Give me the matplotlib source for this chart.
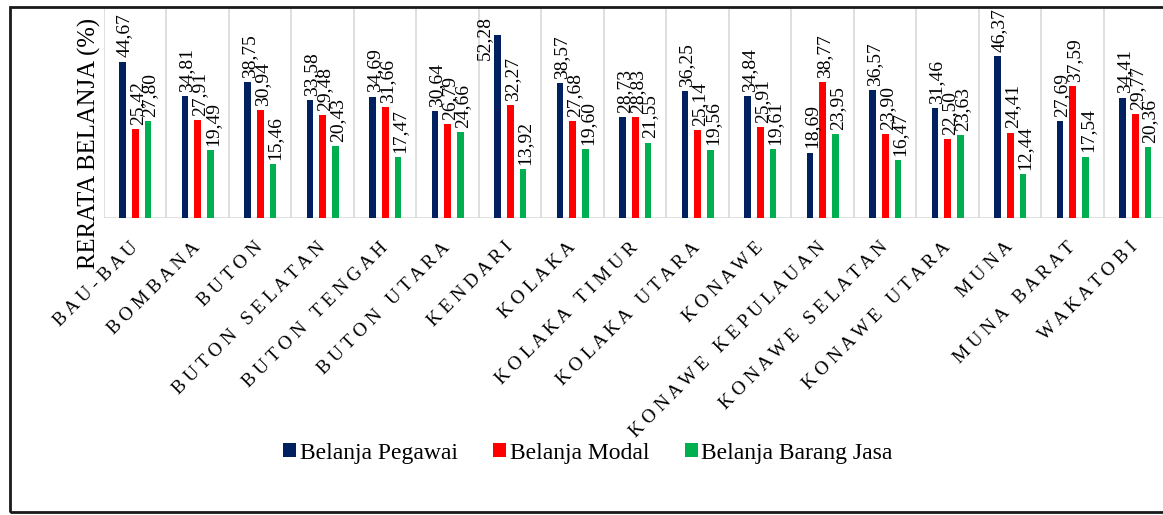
import numpy as np
import matplotlib.pyplot as plt
from matplotlib.patches import Patch, Rectangle
from matplotlib.transforms import ScaledTranslation

plt.rcParams['font.family'] = ['Liberation Serif', 'DejaVu Serif']

# data
regions = ['BAU-BAU', 'BOMBANA', 'BUTON', 'BUTON SELATAN', 'BUTON TENGAH', 'BUTON UTARA',
           'KENDARI', 'KOLAKA', 'KOLAKA TIMUR', 'KOLAKA UTARA', 'KONAWE',
           'KONAWE KEPULAUAN', 'KONAWE SELATAN', 'KONAWE UTARA', 'MUNA', 'MUNA BARAT', 'WAKATOBI']
pegawai = [44.67, 34.81, 38.75, 33.58, 34.69, 30.64, 52.28, 38.57, 28.73, 36.25, 34.84,
           18.69, 36.57, 31.46, 46.37, 27.69, 34.41]
modal = [25.42, 27.91, 30.94, 29.48, 31.66, 26.79, 32.27, 27.68, 28.83, 25.14, 25.91,
         38.77, 23.90, 22.50, 24.41, 37.59, 29.77]
barang_jasa = [27.80, 19.49, 15.46, 20.43, 17.47, 24.66, 13.92, 19.60, 21.55, 19.56, 19.61,
               23.95, 16.47, 23.63, 12.44, 17.54, 20.36]
series_names = ['Belanja Pegawai', 'Belanja Modal', 'Belanja Barang Jasa']

colors = ['#002060', '#FF0000', '#00B050']

fig = plt.figure(figsize=(11.63, 5.15), dpi=100)
ax = fig.add_axes([0.0894, 0.5767, 0.9136, 0.4078])

YMAX = 60
x = np.arange(len(regions))
bar_w = 0.107
step = 0.203
for k, (vals, c) in enumerate(zip([pegawai, modal, barang_jasa], colors)):
    xs = x + (k - 1) * step
    ax.bar(xs, vals, width=bar_w, color=c, zorder=3)
    for xi, v in zip(xs, vals):
        txt = f'{v:.2f}'.replace('.', ',')
        if v > 50:
            # no room above the bar: label sits beside it, against the top
            ax.annotate(txt, (xi, YMAX), xytext=(-9.5, -6), textcoords='offset points',
                        rotation=90, ha='center', va='top', fontsize=14, zorder=4)
        else:
            ax.annotate(txt, (xi, v), xytext=(1.5, 3), textcoords='offset points',
                        rotation=90, ha='center', va='bottom', fontsize=14, zorder=4)

# category separators + baseline
for b in np.arange(-0.5, len(regions), 1.0):
    ax.axvline(b, color='#d9d9d9', lw=1.2, zorder=1)
ax.axhline(0, color='#d9d9d9', lw=1.8, zorder=2)

ax.set_xlim(-0.5, len(regions) - 0.5)
ax.set_ylim(0, YMAX)
ax.set_yticks([])
for s in ax.spines.values():
    s.set_visible(False)


def spaced(name):
    return '   '.join(' '.join(w) for w in name.split(' '))


ax.set_xticks(x)
ax.set_xticklabels([spaced(r) for r in regions], rotation=45, ha='right', va='top',
                   rotation_mode='anchor', fontsize=13.8)
ax.tick_params(axis='x', length=0, pad=15)
shift = ScaledTranslation(-6 / 100, 0, fig.dpi_scale_trans)
for lbl in ax.get_xticklabels():
    lbl.set_transform(lbl.get_transform() + shift)

fig.text(0.0765, 0.722, 'RERATA BELANJA (%)', rotation=90, ha='center', va='center',
         fontsize=17.8)

handles = [Patch(facecolor=c, edgecolor='none') for c in colors]
fig.legend(handles, series_names, loc='center', bbox_to_anchor=(0.5056, 0.12), ncol=3,
           frameon=False, fontsize=17, handlelength=0.55, handleheight=0.55,
           handletextpad=0.15, columnspacing=1.5)

# outer chart frame (right side is cut off in the reference)
fig.patches.append(Rectangle((10 / 1163, 3 / 515), 1.2, 505 / 515, transform=fig.transFigure,
                             fill=False, edgecolor='#1a1a1a', lw=2))

fig.savefig('out.png', dpi=100)
